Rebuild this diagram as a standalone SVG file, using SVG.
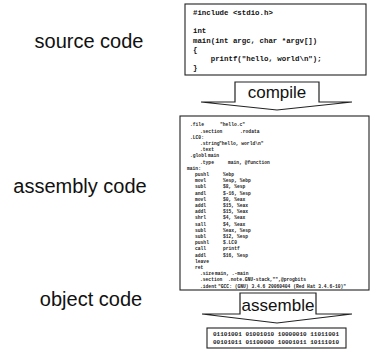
<svg xmlns="http://www.w3.org/2000/svg" width="371" height="352" viewBox="0 0 371 352">
  <style>
    .label { font-family: "Liberation Sans", Arial, sans-serif; font-size: 20px; fill: #111; text-anchor: middle; }
    .step { font-family: "Liberation Sans", Arial, sans-serif; font-size: 17px; fill: #111; text-anchor: middle; }
    .box { fill: #fff; stroke: #222; stroke-width: 1.1; }
    .arrow { fill: #fff; stroke: #222; stroke-width: 1.2; stroke-linejoin: miter; }
    .src { font-family: "Liberation Mono", "Courier New", monospace; font-size: 7.4px; font-weight: bold; fill: #111; }
    .asm { font-family: "Liberation Mono", "Courier New", monospace; font-size: 4.65px; font-weight: bold; fill: #222; }
    .obj { font-family: "Liberation Mono", "Courier New", monospace; font-size: 6px; font-weight: bold; fill: #222; }
  </style>

  <!-- stage labels -->
  <g id="labels">
    <text class="label" x="89" y="48">source code</text>
    <text class="label" x="80" y="193">assembly code</text>
    <text class="label" x="91" y="306">object code</text>
  </g>

  <!-- C source listing -->
  <g id="source">
    <rect class="box" x="185" y="4" width="181" height="71"/>
    <text class="src" x="193" y="15" xml:space="preserve">#include &lt;stdio.h&gt;</text>
    <text class="src" x="193" y="33.4" xml:space="preserve">int</text>
    <text class="src" x="193" y="42.6" xml:space="preserve">main(int argc, char *argv[])</text>
    <text class="src" x="193" y="51.8" xml:space="preserve">{</text>
    <text class="src" x="193" y="61" xml:space="preserve">    printf("hello, world\n");</text>
    <text class="src" x="193" y="70.2" xml:space="preserve">}</text>
  </g>

  <!-- block arrows between stages -->
  <g id="connectors">
    <g id="compile">
      <path class="arrow" d="M235,82 H319 V102 H352 L277,110 L201,102 H235 Z"/>
      <text class="step" x="277" y="98">compile</text>
    </g>
    <g id="assemble">
      <path class="arrow" d="M240,293 H316 V314 H352 L277,323 L202,314 H240 Z"/>
      <text class="step" x="278" y="311">assemble</text>
    </g>
  </g>

  <!-- generated assembly listing -->
  <g id="assembly">
    <rect class="box" x="180" y="116" width="189" height="174"/>
    <g class="asm">
      <text x="190" y="126.3">.file</text><text x="220" y="126.3">"hello.c"</text>
      <text x="200" y="132.5">.section</text><text x="240" y="132.5">.rodata</text>
      <text x="190" y="138.7">.LC0:</text>
      <text x="200" y="144.9">.string</text><text x="219" y="144.9">"hello, world\n"</text>
      <text x="200" y="151.1">.text</text>
      <text x="190" y="157.3">.globl</text><text x="208" y="157.3">main</text>
      <text x="200" y="163.5">.type</text><text x="228" y="163.5">main, @function</text>
      <text x="187" y="169.7">main:</text>
      <text x="195" y="175.9">pushl</text><text x="223" y="175.9">%ebp</text>
      <text x="195" y="182.1">movl</text><text x="223" y="182.1">%esp, %ebp</text>
      <text x="195" y="188.3">subl</text><text x="223" y="188.3">$8, %esp</text>
      <text x="195" y="194.5">andl</text><text x="223" y="194.5">$-16, %esp</text>
      <text x="195" y="200.7">movl</text><text x="223" y="200.7">$0, %eax</text>
      <text x="195" y="206.9">addl</text><text x="223" y="206.9">$15, %eax</text>
      <text x="195" y="213.1">addl</text><text x="223" y="213.1">$15, %eax</text>
      <text x="195" y="219.3">shrl</text><text x="223" y="219.3">$4, %eax</text>
      <text x="195" y="225.5">sall</text><text x="223" y="225.5">$4, %eax</text>
      <text x="195" y="231.7">subl</text><text x="223" y="231.7">%eax, %esp</text>
      <text x="195" y="237.9">subl</text><text x="223" y="237.9">$12, %esp</text>
      <text x="195" y="244.1">pushl</text><text x="223" y="244.1">$.LC0</text>
      <text x="195" y="250.3">call</text><text x="223" y="250.3">printf</text>
      <text x="195" y="256.5">addl</text><text x="223" y="256.5">$16, %esp</text>
      <text x="195" y="262.7">leave</text>
      <text x="195" y="268.9">ret</text>
      <text x="200" y="275.1">.size</text><text x="215" y="275.1">main, .-main</text>
      <text x="200" y="281.3">.section</text><text x="228" y="281.3">.note.GNU-stack,"",@progbits</text>
      <text x="200" y="287.5">.ident</text><text x="218" y="287.5">"GCC: (GNU) 3.4.6 20060404 (Red Hat 3.4.6-10)"</text>
    </g>
  </g>

  <!-- machine code bytes -->
  <g id="object">
    <rect class="box" x="207" y="328" width="139" height="20"/>
    <text class="obj" x="213" y="336">01101001 01001010 10000010 11011001</text>
    <text class="obj" x="213" y="344">00101011 01100000 10001011 10111010</text>
  </g>
</svg>
